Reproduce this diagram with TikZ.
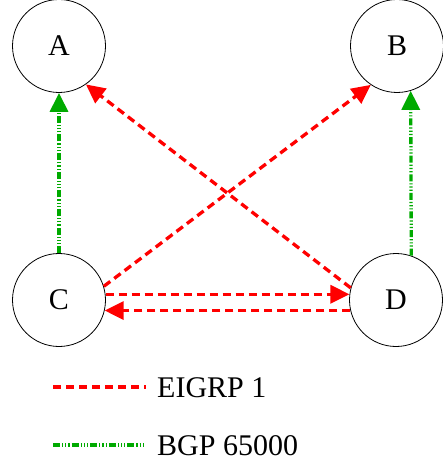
\documentclass[tikz,border=0pt]{standalone}
\usepackage{fontspec}
\setmainfont{Liberation Serif}
\usetikzlibrary{arrows.meta}
\definecolor{eigrpred}{RGB}{255,0,0}
\definecolor{bgpgreen}{RGB}{0,170,0}

\begin{document}
\begin{tikzpicture}[x=1pt,y=-1pt,
		router/.style={draw,circle,minimum size=93pt,inner sep=0pt,line width=0.8pt,font=\fontsize{30}{36}\selectfont},
		eigrp/.style={draw=eigrpred,line width=3.3pt,dash pattern=on 8pt off 5pt,-{Triangle[length=19pt,width=18pt,fill=eigrpred]}},
		bgp/.style={draw=bgpgreen,line width=3.3pt,dash pattern=on 7pt off 2pt on 1.2pt off 2pt on 1.2pt off 2pt on 1.2pt off 2pt,-{Triangle[length=19pt,width=18pt,fill=bgpgreen]}},
		legend/.style={anchor=west,inner sep=0pt,font=\fontsize{30}{36}\selectfont}]
		\useasboundingbox (0,0) rectangle (443,465);
		\node[router] (A) 	at ( 59, 46) 	{A};
		\node[router] (B) 	at (397, 46) 	{B};
		\node[router] (C) 	at ( 59,300) 	{C};
		\node[router] (D) 	at (396,300) 	{D};
		\draw[bgp] (C.north) -- (A.south);
		\draw[bgp] (D.71) -- (B.287);
		\draw[eigrp] (D.165) -- (A.305);
		\draw[eigrp] (C.17) -- (B.236);
		\draw[eigrp] (C.7) -- (D.173);
		\draw[eigrp] (D.193) -- (C.347);
		% legend
		\coordinate (eigrpstart) at ( 53,387);
		\coordinate (eigrpend) 	at (146,387);
		\coordinate (bgpstart) 	at ( 53,445);
		\coordinate (bgpend) 	at (143,445);
		\node[legend] (eigrplabel) 	at (157,388) 	{EIGRP 1};
		\node[legend] (bgplabel) 	at (157,446) 	{BGP 65000};
		\draw[eigrp,-] (eigrpstart) -- (eigrpend);
		\draw[bgp,-] (bgpstart) -- (bgpend);
	\end{tikzpicture}
\end{document}
